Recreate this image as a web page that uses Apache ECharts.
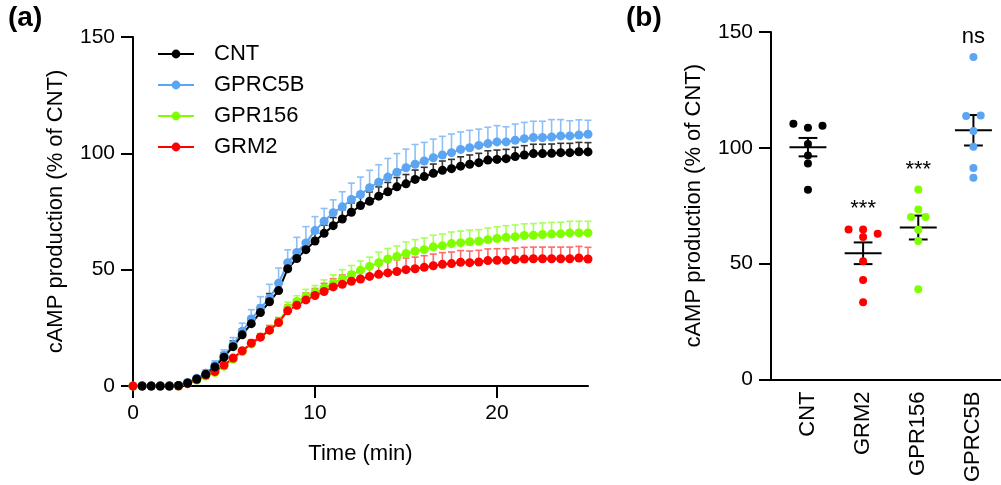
<!DOCTYPE html>
<html>
<head>
<meta charset="utf-8">
<script src="https://cdn.jsdelivr.net/npm/echarts@6/dist/echarts.min.js"></script>
<style>
  html, body { margin: 0; padding: 0; background: #fff; }
  #chart { width: 1001px; height: 485px; }
</style>
</head>
<body>
<div id="chart"></div>
<script>
// ---- panel (a): time course, one point every 0.5 min ----
const times = [];
for (let i = 0; i <= 50; i++) times.push(i / 2);

const cntMean = [null, 0, 0, 0, 0, 0.2, 1.3, 3.0, 5.0, 8.2, 12.4, 16.9, 22.0, 26.8, 31.6, 36.2, 41.0,
  50.4, 54.8, 58.6, 62.3, 65.6, 68.9, 71.8, 74.7, 77.6, 79.4, 81.6, 83.5, 85.6, 86.9, 88.8, 90.0,
  91.4, 92.7, 93.4, 94.5, 95.3, 96.0, 97.1, 97.4, 97.7, 98.6, 99.3, 99.9, 99.9, 100.0, 100.3, 100.3, 100.7, 100.6];
const cntSem = [0, 0, 0, 0, 0, 0, 0, 0.5, 1, 1.5, 2, 2.5, 2.5, 3, 3, 3.5, 3.5,
  3, 3, 3.5, 3.5, 3.5, 3.5, 4, 4, 4, 4, 4, 4, 4, 4, 4, 4,
  4, 4, 4, 4, 4, 4, 4, 4, 4, 4, 4, 4, 4, 4, 4, 4, 4, 4];

const gprc5bMean = [null, 0, 0, 0, 0, 0.2, 1.5, 3.3, 5.5, 8.8, 13.0, 17.8, 23.5, 28.8, 33.4, 37.7, 44.2,
  53.0, 57.4, 61.5, 66.8, 70.8, 74.5, 77.0, 80.2, 82.3, 85.2, 87.6, 89.8, 91.9, 93.8, 95.3, 96.7,
  98.1, 99.3, 100.3, 101.7, 102.4, 103.4, 104.2, 104.9, 104.9, 105.6, 106.3, 106.8, 106.8, 107.0, 107.5, 107.5, 107.9, 108.2];
const gprc5bSem = [0, 0, 0, 0, 0, 0, 0.5, 1, 1.5, 2, 2.5, 3, 3.5, 4, 5, 6, 6.5,
  5.5, 6.5, 7, 6, 5.5, 5.5, 6.5, 7, 7.5, 7.5, 7.5, 8, 8, 8, 8.5, 8,
  8, 8, 8, 7.5, 7.5, 7, 7, 7, 6.5, 7, 7, 7, 7, 7.5, 7, 6.5, 6.5, 6];

const gpr156Mean = [0, 0, 0, 0, 0, 0, 1.0, 2.5, 4.3, 5.8, 8.5, 11.5, 14.8, 18.0, 21.0, 24.0, 27.5,
  33.5, 36.3, 38.5, 40.2, 42.1, 44.3, 46.0, 47.8, 49.7, 51.4, 53.0, 54.6, 55.7, 56.9, 57.9, 58.6,
  59.8, 60.3, 61.2, 61.6, 62.0, 62.2, 62.9, 63.4, 63.9, 64.2, 64.7, 64.8, 65.1, 65.3, 65.4, 65.8, 65.8, 65.8];
const gpr156Sem = [0, 0, 0, 0, 0, 0, 0, 0, 0.5, 0.5, 1, 1, 1, 1.5, 1.5, 2, 2,
  2.5, 2.5, 3, 3, 3.5, 3.5, 4, 4, 4, 4, 4.5, 4.5, 4.5, 5, 5, 5,
  5, 5, 5, 5, 5, 5, 5, 5, 5, 5, 5, 5, 5, 5, 5, 5, 5, 5];

const grm2Mean = [0, 0, 0, 0, 0, 0, 1.0, 2.8, 4.7, 6.2, 9.0, 12.0, 15.1, 18.4, 21.0, 24.0, 27.3,
  32.3, 34.7, 37.0, 38.9, 40.6, 42.6, 43.7, 45.0, 46.0, 47.1, 48.0, 48.6, 49.2, 50.0, 50.4, 51.0,
  51.7, 52.3, 52.6, 53.2, 53.0, 53.3, 53.9, 54.0, 54.0, 54.3, 54.6, 54.7, 54.7, 54.7, 54.7, 54.7, 55.0, 54.6];
const grm2Sem = [0, 0, 0, 0, 0, 0, 0, 0, 0.5, 0.5, 1, 1, 1, 1.5, 1.5, 2, 2,
  2.5, 2.5, 3, 3, 3.5, 3.5, 4, 4, 4.5, 4.5, 5, 5, 5, 5, 5, 5,
  5, 5, 5, 5, 5, 5, 5, 5, 5, 5, 5, 5, 5, 5, 5, 5, 5, 5];

// ---- panel (b): individual replicates ----
const groups = ['CNT', 'GRM2', 'GPR156', 'GPRC5B'];
const cntPts = [110.4, 108.7, 109.5, 101.7, 96.7, 93.2, 81.9];
const grm2Pts = [64.8, 64.8, 62.9, 61.5, 51.1, 43.0, 33.4];
const gpr156Pts = [82.0, 73.4, 70.2, 70.2, 64.6, 59.8, 39.0];
const gprc5bPts = [139.2, 113.7, 114.0, 107.3, 100.5, 91.3, 87.1];
const sigLabels = ['', '***', '***', 'ns'];

const C_BLACK = '#000000', C_BLUE = '#5ba5f3', C_GREEN = '#80ff00', C_RED = '#ff0000';
const FONT = 'Liberation Sans, Arial, sans-serif';

function pairs(ys) {
  return times.map((t, i) => [t, ys[i]]);
}
function errData(m, s) {
  return times.map((t, i) => (m[i] == null ? [t, null, null] : [t, m[i], s[i]]));
}

function errSeries(name, m, s, color) {
  return {
    name: name + ' sem',
    type: 'custom',
    xAxisIndex: 0, yAxisIndex: 0,
    data: errData(m, s),
    silent: true,
    renderItem: function (params, api) {
      const v = api.value(1);
      const e = api.value(2);
      if (v == null || isNaN(v) || !e) return null;
      const p = api.coord([api.value(0), v]);
      const q = api.coord([api.value(0), v + e]);
      const st = { stroke: color, lineWidth: 1.6 };
      return {
        type: 'group',
        children: [
          { type: 'line', shape: { x1: p[0], y1: p[1], x2: q[0], y2: q[1] }, style: st },
          { type: 'line', shape: { x1: q[0] - 3.5, y1: q[1], x2: q[0] + 3.5, y2: q[1] }, style: st }
        ]
      };
    }
  };
}

function lineSeries(name, m, color) {
  return {
    name: name,
    type: 'line',
    xAxisIndex: 0, yAxisIndex: 0,
    data: pairs(m),
    symbol: 'circle',
    symbolSize: 9,
    showSymbol: true,
    connectNulls: false,
    itemStyle: { color: color },
    lineStyle: { color: color, width: 2 },
    emphasis: { disabled: true },
    animation: false
  };
}

// simple beeswarm: points within 3 units share a row, spread round the centre.
// group i sits at x = i + 1 so that x = 0 stays off the axis
function swarm(vals, idx) {
  const order = vals.map((v, i) => i).sort((a, b) => vals[b] - vals[a]);
  const out = new Array(vals.length);
  let k = 0;
  const step = 0.264;
  while (k < order.length) {
    const top = vals[order[k]];
    const bin = [];
    while (k < order.length && top - vals[order[k]] < 3) { bin.push(order[k]); k++; }
    bin.sort((a, b) => a - b);
    bin.forEach((p, j) => { out[p] = [idx + 1 + (j - (bin.length - 1) / 2) * step, vals[p]]; });
  }
  return out;
}

function meanSem(vals) {
  const n = vals.length;
  const m = vals.reduce((a, b) => a + b, 0) / n;
  const sd = Math.sqrt(vals.reduce((a, b) => a + (b - m) * (b - m), 0) / (n - 1));
  return [m, sd / Math.sqrt(n)];
}

const ptSets = [cntPts, grm2Pts, gpr156Pts, gprc5bPts];
const ptColors = [C_BLACK, C_RED, C_GREEN, C_BLUE];
const summary = ptSets.map((v, i) => { const ms = meanSem(v); return [i + 1, ms[0], ms[1]]; });
const sigData = ptSets.map((v, i) => [i + 1, Math.max.apply(null, v), sigLabels[i]]);

const chart = echarts.init(document.getElementById('chart'), null, { renderer: 'canvas' });

const tickStyle = { show: true, length: 12, lineStyle: { color: '#000', width: 2 } };
const labelStyle = { color: '#000', fontSize: 21, fontFamily: FONT };
const nameStyle = { color: '#000', fontSize: 22, fontFamily: FONT };

const option = {
  animation: false,
  backgroundColor: '#fff',
  textStyle: { fontFamily: FONT },
  graphic: [
    { type: 'text', left: 8, top: 4, style: { text: '(a)', font: 'bold 28px ' + FONT, fill: '#000' } },
    { type: 'text', left: 626, top: 4, style: { text: '(b)', font: 'bold 28px ' + FONT, fill: '#000' } }
  ],
  grid: [
    { left: 133, top: 37, width: 455, height: 349 },
    { left: 771, top: 32, width: 230, height: 353 }
  ],
  legend: {
    data: ['CNT', 'GPRC5B', 'GPR156', 'GRM2'],
    orient: 'vertical',
    left: 157,
    top: 43,
    padding: 0,
    itemWidth: 36,
    itemHeight: 11,
    itemGap: 9,
    selectedMode: false,
    textStyle: { color: '#000', fontSize: 22, fontFamily: FONT, padding: [0, 0, 0, 15] }
  },
  xAxis: [
    {
      gridIndex: 0, type: 'value', min: 0, max: 25, interval: 10,
      name: 'Time (min)', nameLocation: 'middle', nameGap: 57, nameTextStyle: nameStyle,
      axisLine: { onZero: false, lineStyle: { color: '#000', width: 2 } },
      axisTick: Object.assign({ customValues: [0, 10, 20] }, tickStyle),
      axisLabel: Object.assign({ customValues: [0, 10, 20], margin: 17 }, labelStyle),
      splitLine: { show: false }
    },
    {
      gridIndex: 1, type: 'value', min: 0.33, max: 4.5,
      axisLine: { onZero: false, lineStyle: { color: '#000', width: 2 } },
      axisTick: { show: false },
      axisLabel: Object.assign({
        customValues: [1, 2, 3, 4], rotate: 90, margin: 12,
        formatter: function (v) { return groups[Math.round(v) - 1]; }
      }, nameStyle),
      splitLine: { show: false }
    }
  ],
  yAxis: [
    {
      gridIndex: 0, type: 'value', min: 0, max: 150, interval: 50,
      name: 'cAMP production (% of CNT)', nameLocation: 'middle', nameGap: 66, nameTextStyle: nameStyle,
      axisLine: { show: true, onZero: false, lineStyle: { color: '#000', width: 2 } },
      axisTick: tickStyle,
      axisLabel: Object.assign({ margin: 18 }, labelStyle),
      splitLine: { show: false }
    },
    {
      gridIndex: 1, type: 'value', min: 0, max: 150, interval: 50,
      position: 'left',
      name: 'cAMP production (% of CNT)', nameLocation: 'middle', nameGap: 66, nameTextStyle: nameStyle,
      axisLine: { show: true, onZero: false, lineStyle: { color: '#000', width: 2 } },
      axisTick: tickStyle,
      axisLabel: Object.assign({ margin: 18 }, labelStyle),
      splitLine: { show: false }
    }
  ],
  series: [
    errSeries('GPR156', gpr156Mean, gpr156Sem, '#a8ff5a'),
    errSeries('GRM2', grm2Mean, grm2Sem, '#ff6a6a'),
    errSeries('GPRC5B', gprc5bMean, gprc5bSem, '#8cc0f7'),
    errSeries('CNT', cntMean, cntSem, '#333333'),
    lineSeries('GPR156', gpr156Mean, C_GREEN),
    lineSeries('GRM2', grm2Mean, C_RED),
    lineSeries('GPRC5B', gprc5bMean, C_BLUE),
    lineSeries('CNT', cntMean, C_BLACK)
  ].concat(ptSets.map((v, i) => ({
    name: groups[i] + ' pts',
    type: 'scatter',
    xAxisIndex: 1, yAxisIndex: 1,
    data: swarm(v, i),
    symbolSize: 8,
    itemStyle: { color: ptColors[i], opacity: 1 },
    emphasis: { disabled: true },
    silent: true
  }))).concat([
    {
      name: 'mean sem',
      type: 'custom',
      xAxisIndex: 1, yAxisIndex: 1,
      data: summary,
      silent: true,
      renderItem: function (params, api) {
        const x = api.value(0), m = api.value(1), s = api.value(2);
        const a = api.coord([x - 0.335, m]), b = api.coord([x + 0.335, m]);
        const hi = api.coord([x, m + s]), lo = api.coord([x, m - s]);
        const cw = api.size([0.17, 0])[0];
        const st = { stroke: '#000', lineWidth: 2 };
        return {
          type: 'group',
          children: [
            { type: 'line', shape: { x1: a[0], y1: a[1], x2: b[0], y2: b[1] }, style: st },
            { type: 'line', shape: { x1: hi[0], y1: hi[1], x2: lo[0], y2: lo[1] }, style: st },
            { type: 'line', shape: { x1: hi[0] - cw, y1: hi[1], x2: hi[0] + cw, y2: hi[1] }, style: st },
            { type: 'line', shape: { x1: lo[0] - cw, y1: lo[1], x2: lo[0] + cw, y2: lo[1] }, style: st }
          ]
        };
      }
    },
    {
      name: 'significance',
      type: 'scatter',
      xAxisIndex: 1, yAxisIndex: 1,
      data: sigData,
      symbolSize: 0,
      silent: true,
      itemStyle: { color: '#000', opacity: 1 },
      label: {
        show: true, position: 'top', distance: 9,
        formatter: function (p) { return p.data[2]; },
        color: '#000', fontSize: 22, fontFamily: FONT
      }
    }
  ])
};

chart.setOption(option);
</script>
</body>
</html>
